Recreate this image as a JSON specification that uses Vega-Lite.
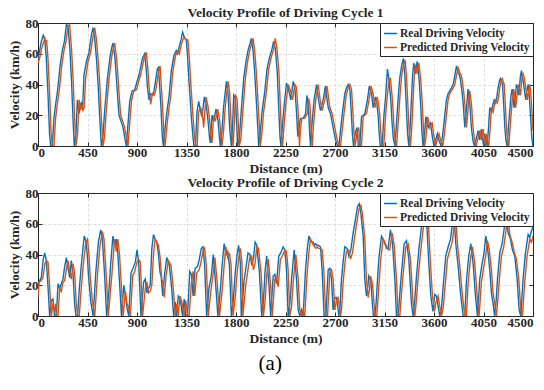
{
"$schema":"https://vega.github.io/schema/vega-lite/v6.json",
"padding":{"left":6,"top":5,"right":8,"bottom":2},
"background":"white",
"config":{
 "font":"Liberation Serif",
 "view":{"stroke":"#262626","strokeWidth":1},
 "axis":{"labelFont":"Liberation Serif","labelFontSize":13,"labelFontWeight":"bold","labelColor":"#262626","titleFont":"Liberation Serif","titleFontSize":13.5,"titleFontWeight":"bold","titleColor":"#262626","domainColor":"#262626","tickColor":"#262626","tickSize":-4,"labelPadding":4,"gridColor":"#dedede","gridDash":[3,2],"format":"d"},
 "title":{"font":"Liberation Serif","fontSize":13.5,"fontWeight":"bold","color":"#262626","offset":-2},
 "legend":{"orient":"top-right","offset":0,"strokeColor":"#262626","fillColor":"white","padding":3,"rowPadding":1,"labelFont":"Liberation Serif","labelFontSize":11.5,"labelFontWeight":"bold","labelColor":"#262626","symbolType":"stroke","symbolSize":170,"symbolStrokeWidth":1.5,"title":null,"labelOffset":2}
},
"datasets":{
"r1":[{"d":0,"v":57},{"d":15,"v":62},{"d":30,"v":68},{"d":48,"v":72},{"d":62,"v":69},{"d":75,"v":58},{"d":90,"v":35},{"d":105,"v":8},{"d":115,"v":0},{"d":130,"v":0},{"d":145,"v":18},{"d":160,"v":27},{"d":176,"v":35},{"d":190,"v":44},{"d":200,"v":52},{"d":221,"v":62},{"d":240,"v":68},{"d":258,"v":79},{"d":272,"v":78},{"d":290,"v":63},{"d":305,"v":42},{"d":318,"v":18},{"d":330,"v":0},{"d":345,"v":8},{"d":358,"v":30},{"d":373,"v":21},{"d":385,"v":27},{"d":394,"v":28},{"d":405,"v":24},{"d":418,"v":46},{"d":440,"v":55},{"d":464,"v":61},{"d":485,"v":72},{"d":500,"v":77},{"d":515,"v":70},{"d":530,"v":58},{"d":545,"v":42},{"d":560,"v":20},{"d":576,"v":0},{"d":590,"v":6},{"d":605,"v":22},{"d":631,"v":44},{"d":655,"v":58},{"d":670,"v":64},{"d":682,"v":67},{"d":700,"v":57},{"d":715,"v":42},{"d":728,"v":28},{"d":737,"v":20},{"d":755,"v":16},{"d":773,"v":12},{"d":790,"v":5},{"d":803,"v":0},{"d":820,"v":16},{"d":834,"v":29},{"d":846,"v":33},{"d":858,"v":36},{"d":870,"v":36},{"d":882,"v":37},{"d":900,"v":42},{"d":918,"v":46},{"d":935,"v":52},{"d":949,"v":57},{"d":970,"v":60},{"d":985,"v":49},{"d":994,"v":39},{"d":1009,"v":30},{"d":1025,"v":34},{"d":1040,"v":33},{"d":1055,"v":36},{"d":1070,"v":43},{"d":1085,"v":50},{"d":1095,"v":51},{"d":1105,"v":40},{"d":1118,"v":25},{"d":1130,"v":6},{"d":1140,"v":0},{"d":1160,"v":15},{"d":1175,"v":24},{"d":1191,"v":32},{"d":1212,"v":49},{"d":1236,"v":59},{"d":1257,"v":62},{"d":1270,"v":60},{"d":1282,"v":64},{"d":1300,"v":69},{"d":1315,"v":74},{"d":1333,"v":70},{"d":1348,"v":69},{"d":1360,"v":58},{"d":1373,"v":42},{"d":1394,"v":19},{"d":1410,"v":5},{"d":1418,"v":0},{"d":1432,"v":0},{"d":1445,"v":22},{"d":1461,"v":29},{"d":1476,"v":23},{"d":1491,"v":19},{"d":1512,"v":32},{"d":1530,"v":26},{"d":1545,"v":17},{"d":1560,"v":5},{"d":1567,"v":2},{"d":1582,"v":20},{"d":1597,"v":16},{"d":1618,"v":24},{"d":1636,"v":17},{"d":1650,"v":5},{"d":1658,"v":0},{"d":1672,"v":10},{"d":1688,"v":26},{"d":1713,"v":42},{"d":1727,"v":35},{"d":1743,"v":11},{"d":1758,"v":0},{"d":1770,"v":15},{"d":1779,"v":33},{"d":1794,"v":31},{"d":1808,"v":12},{"d":1815,"v":0},{"d":1830,"v":5},{"d":1849,"v":24},{"d":1870,"v":44},{"d":1891,"v":55},{"d":1909,"v":62},{"d":1925,"v":66},{"d":1940,"v":70},{"d":1955,"v":62},{"d":1970,"v":48},{"d":1985,"v":29},{"d":1998,"v":12},{"d":2006,"v":0},{"d":2020,"v":8},{"d":2036,"v":22},{"d":2061,"v":35},{"d":2082,"v":50},{"d":2103,"v":57},{"d":2127,"v":63},{"d":2142,"v":68},{"d":2158,"v":63},{"d":2175,"v":48},{"d":2190,"v":22},{"d":2200,"v":6},{"d":2208,"v":0},{"d":2225,"v":16},{"d":2240,"v":28},{"d":2259,"v":41},{"d":2280,"v":36},{"d":2298,"v":30},{"d":2320,"v":42},{"d":2335,"v":38},{"d":2350,"v":22},{"d":2362,"v":6},{"d":2372,"v":12},{"d":2385,"v":18},{"d":2410,"v":18},{"d":2432,"v":21},{"d":2445,"v":33},{"d":2458,"v":26},{"d":2470,"v":8},{"d":2478,"v":0},{"d":2490,"v":14},{"d":2510,"v":30},{"d":2532,"v":40},{"d":2550,"v":30},{"d":2568,"v":23},{"d":2592,"v":30},{"d":2613,"v":39},{"d":2625,"v":32},{"d":2638,"v":25},{"d":2659,"v":21},{"d":2683,"v":12},{"d":2705,"v":4},{"d":2722,"v":0},{"d":2735,"v":0},{"d":2750,"v":10},{"d":2765,"v":20},{"d":2789,"v":34},{"d":2805,"v":38},{"d":2820,"v":40},{"d":2835,"v":37},{"d":2848,"v":22},{"d":2858,"v":8},{"d":2868,"v":0},{"d":2880,"v":6},{"d":2890,"v":10},{"d":2901,"v":12},{"d":2912,"v":0},{"d":2925,"v":0},{"d":2941,"v":19},{"d":2955,"v":20},{"d":2971,"v":21},{"d":2995,"v":30},{"d":3012,"v":39},{"d":3032,"v":34},{"d":3047,"v":25},{"d":3068,"v":32},{"d":3080,"v":28},{"d":3092,"v":20},{"d":3102,"v":8},{"d":3112,"v":0},{"d":3128,"v":0},{"d":3145,"v":20},{"d":3160,"v":32},{"d":3177,"v":50},{"d":3189,"v":44},{"d":3207,"v":30},{"d":3220,"v":14},{"d":3230,"v":5},{"d":3245,"v":0},{"d":3262,"v":18},{"d":3278,"v":35},{"d":3290,"v":45},{"d":3308,"v":53},{"d":3322,"v":57},{"d":3335,"v":46},{"d":3348,"v":26},{"d":3360,"v":8},{"d":3371,"v":0},{"d":3383,"v":12},{"d":3395,"v":30},{"d":3405,"v":45},{"d":3416,"v":54},{"d":3432,"v":47},{"d":3447,"v":55},{"d":3465,"v":43},{"d":3478,"v":28},{"d":3490,"v":10},{"d":3500,"v":0},{"d":3512,"v":6},{"d":3526,"v":19},{"d":3537,"v":16},{"d":3547,"v":12},{"d":3558,"v":14},{"d":3568,"v":15},{"d":3585,"v":6},{"d":3600,"v":0},{"d":3615,"v":4},{"d":3630,"v":8},{"d":3648,"v":3},{"d":3665,"v":0},{"d":3680,"v":8},{"d":3695,"v":18},{"d":3713,"v":30},{"d":3728,"v":34},{"d":3744,"v":36},{"d":3760,"v":38},{"d":3774,"v":40},{"d":3790,"v":46},{"d":3804,"v":52},{"d":3819,"v":48},{"d":3832,"v":46},{"d":3841,"v":43},{"d":3855,"v":35},{"d":3865,"v":28},{"d":3880,"v":12},{"d":3895,"v":24},{"d":3909,"v":37},{"d":3925,"v":28},{"d":3940,"v":12},{"d":3955,"v":3},{"d":3968,"v":0},{"d":3985,"v":5},{"d":4001,"v":10},{"d":4016,"v":4},{"d":4031,"v":11},{"d":4045,"v":3},{"d":4053,"v":0},{"d":4062,"v":8},{"d":4072,"v":3},{"d":4083,"v":0},{"d":4096,"v":12},{"d":4107,"v":25},{"d":4123,"v":22},{"d":4135,"v":27},{"d":4147,"v":30},{"d":4160,"v":28},{"d":4168,"v":30},{"d":4183,"v":38},{"d":4197,"v":43},{"d":4205,"v":44},{"d":4223,"v":40},{"d":4235,"v":25},{"d":4244,"v":12},{"d":4255,"v":3},{"d":4265,"v":0},{"d":4280,"v":15},{"d":4289,"v":23},{"d":4300,"v":33},{"d":4310,"v":37},{"d":4328,"v":25},{"d":4340,"v":33},{"d":4350,"v":40},{"d":4360,"v":38},{"d":4372,"v":33},{"d":4385,"v":45},{"d":4395,"v":49},{"d":4407,"v":44},{"d":4419,"v":38},{"d":4434,"v":30},{"d":4445,"v":36},{"d":4456,"v":40},{"d":4467,"v":32},{"d":4477,"v":20},{"d":4490,"v":5},{"d":4500,"v":0}],
"p1":[{"d":0,"v":54},{"d":18,"v":58},{"d":32,"v":63},{"d":48,"v":67},{"d":63,"v":70},{"d":70,"v":67},{"d":78,"v":69},{"d":90,"v":58},{"d":105,"v":35},{"d":120,"v":8},{"d":130,"v":0},{"d":145,"v":0},{"d":160,"v":18},{"d":175,"v":27},{"d":191,"v":35},{"d":205,"v":44},{"d":215,"v":52},{"d":236,"v":62},{"d":255,"v":68},{"d":273,"v":78},{"d":287,"v":79},{"d":305,"v":63},{"d":320,"v":42},{"d":333,"v":18},{"d":345,"v":0},{"d":360,"v":8},{"d":373,"v":30},{"d":388,"v":24},{"d":400,"v":26},{"d":409,"v":23},{"d":420,"v":25},{"d":433,"v":44},{"d":455,"v":55},{"d":479,"v":61},{"d":500,"v":71},{"d":515,"v":77},{"d":530,"v":70},{"d":545,"v":58},{"d":560,"v":42},{"d":575,"v":20},{"d":591,"v":0},{"d":605,"v":6},{"d":620,"v":22},{"d":646,"v":44},{"d":670,"v":58},{"d":685,"v":64},{"d":697,"v":67},{"d":715,"v":57},{"d":730,"v":42},{"d":743,"v":28},{"d":752,"v":20},{"d":770,"v":16},{"d":788,"v":12},{"d":805,"v":5},{"d":818,"v":0},{"d":835,"v":16},{"d":849,"v":29},{"d":861,"v":33},{"d":873,"v":36},{"d":885,"v":36},{"d":897,"v":37},{"d":915,"v":42},{"d":933,"v":46},{"d":950,"v":52},{"d":964,"v":57},{"d":985,"v":61},{"d":1000,"v":49},{"d":1009,"v":39},{"d":1024,"v":27},{"d":1040,"v":34},{"d":1055,"v":33},{"d":1070,"v":36},{"d":1085,"v":43},{"d":1100,"v":50},{"d":1110,"v":52},{"d":1120,"v":40},{"d":1133,"v":25},{"d":1145,"v":6},{"d":1155,"v":0},{"d":1175,"v":15},{"d":1190,"v":24},{"d":1206,"v":32},{"d":1227,"v":49},{"d":1251,"v":59},{"d":1272,"v":62},{"d":1285,"v":60},{"d":1297,"v":64},{"d":1315,"v":69},{"d":1330,"v":71},{"d":1348,"v":69},{"d":1363,"v":69},{"d":1375,"v":58},{"d":1388,"v":42},{"d":1409,"v":19},{"d":1425,"v":5},{"d":1433,"v":0},{"d":1447,"v":0},{"d":1460,"v":22},{"d":1476,"v":25},{"d":1491,"v":23},{"d":1506,"v":12},{"d":1527,"v":32},{"d":1545,"v":26},{"d":1560,"v":17},{"d":1575,"v":5},{"d":1582,"v":2},{"d":1597,"v":20},{"d":1612,"v":16},{"d":1633,"v":24},{"d":1651,"v":17},{"d":1665,"v":5},{"d":1673,"v":0},{"d":1687,"v":10},{"d":1703,"v":26},{"d":1728,"v":42},{"d":1742,"v":35},{"d":1758,"v":11},{"d":1773,"v":0},{"d":1785,"v":15},{"d":1794,"v":33},{"d":1809,"v":31},{"d":1823,"v":12},{"d":1830,"v":0},{"d":1845,"v":5},{"d":1864,"v":24},{"d":1885,"v":44},{"d":1906,"v":55},{"d":1924,"v":62},{"d":1940,"v":66},{"d":1955,"v":70},{"d":1970,"v":62},{"d":1985,"v":48},{"d":2000,"v":29},{"d":2013,"v":12},{"d":2021,"v":0},{"d":2035,"v":8},{"d":2051,"v":22},{"d":2076,"v":35},{"d":2097,"v":50},{"d":2118,"v":57},{"d":2142,"v":63},{"d":2157,"v":70},{"d":2173,"v":63},{"d":2190,"v":48},{"d":2205,"v":22},{"d":2215,"v":6},{"d":2223,"v":0},{"d":2240,"v":16},{"d":2255,"v":28},{"d":2274,"v":40},{"d":2295,"v":36},{"d":2313,"v":30},{"d":2335,"v":40},{"d":2350,"v":38},{"d":2365,"v":22},{"d":2377,"v":0},{"d":2387,"v":12},{"d":2400,"v":18},{"d":2425,"v":18},{"d":2447,"v":21},{"d":2460,"v":31},{"d":2473,"v":26},{"d":2485,"v":8},{"d":2493,"v":0},{"d":2505,"v":14},{"d":2525,"v":30},{"d":2547,"v":40},{"d":2565,"v":30},{"d":2583,"v":23},{"d":2607,"v":30},{"d":2628,"v":39},{"d":2640,"v":32},{"d":2653,"v":25},{"d":2674,"v":21},{"d":2698,"v":12},{"d":2720,"v":4},{"d":2737,"v":0},{"d":2750,"v":0},{"d":2765,"v":10},{"d":2780,"v":20},{"d":2804,"v":34},{"d":2820,"v":38},{"d":2835,"v":40},{"d":2850,"v":37},{"d":2863,"v":22},{"d":2873,"v":8},{"d":2883,"v":0},{"d":2895,"v":6},{"d":2905,"v":10},{"d":2916,"v":12},{"d":2927,"v":0},{"d":2940,"v":0},{"d":2956,"v":19},{"d":2970,"v":20},{"d":2986,"v":21},{"d":3010,"v":30},{"d":3027,"v":39},{"d":3047,"v":34},{"d":3062,"v":25},{"d":3083,"v":32},{"d":3095,"v":28},{"d":3107,"v":20},{"d":3117,"v":8},{"d":3127,"v":0},{"d":3143,"v":0},{"d":3160,"v":20},{"d":3175,"v":32},{"d":3192,"v":44},{"d":3204,"v":44},{"d":3222,"v":30},{"d":3235,"v":14},{"d":3245,"v":5},{"d":3260,"v":0},{"d":3277,"v":18},{"d":3293,"v":35},{"d":3305,"v":45},{"d":3323,"v":53},{"d":3337,"v":56},{"d":3350,"v":46},{"d":3363,"v":26},{"d":3375,"v":8},{"d":3386,"v":0},{"d":3398,"v":12},{"d":3410,"v":30},{"d":3420,"v":45},{"d":3431,"v":53},{"d":3447,"v":47},{"d":3462,"v":54},{"d":3480,"v":43},{"d":3493,"v":28},{"d":3505,"v":10},{"d":3515,"v":0},{"d":3527,"v":6},{"d":3541,"v":19},{"d":3552,"v":16},{"d":3562,"v":12},{"d":3573,"v":14},{"d":3583,"v":15},{"d":3600,"v":6},{"d":3615,"v":0},{"d":3630,"v":4},{"d":3645,"v":8},{"d":3663,"v":3},{"d":3680,"v":0},{"d":3695,"v":8},{"d":3710,"v":18},{"d":3728,"v":30},{"d":3743,"v":34},{"d":3759,"v":36},{"d":3775,"v":38},{"d":3789,"v":40},{"d":3805,"v":46},{"d":3819,"v":51},{"d":3834,"v":48},{"d":3847,"v":46},{"d":3856,"v":43},{"d":3870,"v":35},{"d":3880,"v":28},{"d":3895,"v":12},{"d":3910,"v":24},{"d":3924,"v":36},{"d":3940,"v":28},{"d":3955,"v":12},{"d":3970,"v":3},{"d":3983,"v":0},{"d":4000,"v":5},{"d":4016,"v":10},{"d":4031,"v":4},{"d":4046,"v":11},{"d":4060,"v":3},{"d":4068,"v":0},{"d":4077,"v":8},{"d":4087,"v":3},{"d":4098,"v":0},{"d":4111,"v":12},{"d":4122,"v":25},{"d":4138,"v":22},{"d":4150,"v":27},{"d":4162,"v":30},{"d":4175,"v":28},{"d":4183,"v":30},{"d":4198,"v":38},{"d":4212,"v":43},{"d":4220,"v":44},{"d":4238,"v":40},{"d":4250,"v":25},{"d":4259,"v":12},{"d":4270,"v":3},{"d":4280,"v":0},{"d":4295,"v":15},{"d":4304,"v":23},{"d":4315,"v":33},{"d":4325,"v":37},{"d":4343,"v":25},{"d":4355,"v":33},{"d":4365,"v":40},{"d":4375,"v":38},{"d":4387,"v":33},{"d":4400,"v":45},{"d":4410,"v":47},{"d":4422,"v":44},{"d":4434,"v":38},{"d":4449,"v":30},{"d":4460,"v":36},{"d":4471,"v":40},{"d":4482,"v":32},{"d":4492,"v":20},{"d":4500,"v":10}],
"r2":[{"d":0,"v":20},{"d":15,"v":23},{"d":30,"v":25},{"d":48,"v":37},{"d":61,"v":41},{"d":76,"v":36},{"d":91,"v":19},{"d":106,"v":0},{"d":121,"v":10},{"d":136,"v":11},{"d":150,"v":0},{"d":167,"v":0},{"d":182,"v":21},{"d":197,"v":18},{"d":212,"v":21},{"d":227,"v":24},{"d":242,"v":32},{"d":258,"v":38},{"d":273,"v":31},{"d":288,"v":25},{"d":303,"v":36},{"d":318,"v":28},{"d":333,"v":8},{"d":345,"v":0},{"d":360,"v":0},{"d":375,"v":17},{"d":396,"v":35},{"d":420,"v":52},{"d":435,"v":49},{"d":448,"v":40},{"d":459,"v":26},{"d":480,"v":9},{"d":501,"v":0},{"d":525,"v":28},{"d":549,"v":48},{"d":570,"v":56},{"d":585,"v":50},{"d":606,"v":26},{"d":624,"v":0},{"d":645,"v":17},{"d":660,"v":33},{"d":681,"v":52},{"d":696,"v":46},{"d":711,"v":50},{"d":726,"v":40},{"d":741,"v":22},{"d":759,"v":0},{"d":780,"v":20},{"d":795,"v":13},{"d":810,"v":5},{"d":825,"v":0},{"d":846,"v":28},{"d":864,"v":31},{"d":885,"v":35},{"d":900,"v":43},{"d":915,"v":35},{"d":936,"v":0},{"d":960,"v":22},{"d":975,"v":24},{"d":990,"v":15},{"d":1005,"v":18},{"d":1020,"v":20},{"d":1035,"v":44},{"d":1050,"v":53},{"d":1065,"v":50},{"d":1080,"v":48},{"d":1095,"v":40},{"d":1110,"v":28},{"d":1119,"v":26},{"d":1134,"v":13},{"d":1149,"v":26},{"d":1170,"v":38},{"d":1194,"v":33},{"d":1215,"v":18},{"d":1233,"v":0},{"d":1248,"v":9},{"d":1260,"v":0},{"d":1275,"v":13},{"d":1293,"v":11},{"d":1314,"v":0},{"d":1329,"v":11},{"d":1344,"v":0},{"d":1359,"v":0},{"d":1380,"v":29},{"d":1395,"v":27},{"d":1410,"v":13},{"d":1428,"v":31},{"d":1449,"v":32},{"d":1464,"v":36},{"d":1485,"v":44},{"d":1500,"v":45},{"d":1515,"v":33},{"d":1533,"v":0},{"d":1554,"v":18},{"d":1575,"v":26},{"d":1593,"v":40},{"d":1614,"v":22},{"d":1635,"v":0},{"d":1659,"v":18},{"d":1674,"v":33},{"d":1692,"v":47},{"d":1710,"v":40},{"d":1725,"v":42},{"d":1740,"v":33},{"d":1758,"v":0},{"d":1775,"v":10},{"d":1794,"v":29},{"d":1810,"v":40},{"d":1824,"v":46},{"d":1839,"v":35},{"d":1848,"v":0},{"d":1873,"v":23},{"d":1890,"v":31},{"d":1909,"v":41},{"d":1927,"v":40},{"d":1944,"v":33},{"d":1960,"v":38},{"d":1974,"v":48},{"d":1989,"v":46},{"d":2013,"v":28},{"d":2034,"v":0},{"d":2050,"v":10},{"d":2064,"v":29},{"d":2079,"v":39},{"d":2100,"v":20},{"d":2115,"v":0},{"d":2138,"v":26},{"d":2153,"v":27},{"d":2168,"v":21},{"d":2189,"v":39},{"d":2207,"v":41},{"d":2229,"v":45},{"d":2244,"v":43},{"d":2259,"v":30},{"d":2274,"v":0},{"d":2290,"v":8},{"d":2305,"v":24},{"d":2329,"v":43},{"d":2350,"v":24},{"d":2365,"v":4},{"d":2380,"v":0},{"d":2395,"v":4},{"d":2410,"v":0},{"d":2432,"v":30},{"d":2447,"v":43},{"d":2462,"v":52},{"d":2477,"v":49},{"d":2490,"v":48},{"d":2501,"v":48},{"d":2512,"v":46},{"d":2523,"v":47},{"d":2535,"v":46},{"d":2547,"v":46},{"d":2568,"v":45},{"d":2583,"v":30},{"d":2601,"v":0},{"d":2617,"v":0},{"d":2638,"v":30},{"d":2653,"v":31},{"d":2668,"v":24},{"d":2683,"v":4},{"d":2698,"v":12},{"d":2712,"v":12},{"d":2722,"v":8},{"d":2735,"v":0},{"d":2745,"v":5},{"d":2759,"v":24},{"d":2775,"v":36},{"d":2789,"v":45},{"d":2810,"v":44},{"d":2826,"v":39},{"d":2844,"v":43},{"d":2865,"v":54},{"d":2886,"v":63},{"d":2904,"v":71},{"d":2920,"v":73},{"d":2935,"v":67},{"d":2956,"v":52},{"d":2971,"v":24},{"d":2986,"v":13},{"d":3000,"v":20},{"d":3007,"v":26},{"d":3026,"v":23},{"d":3040,"v":8},{"d":3050,"v":0},{"d":3065,"v":0},{"d":3077,"v":12},{"d":3090,"v":28},{"d":3101,"v":39},{"d":3123,"v":52},{"d":3144,"v":49},{"d":3168,"v":44},{"d":3183,"v":44},{"d":3204,"v":56},{"d":3223,"v":47},{"d":3244,"v":24},{"d":3259,"v":0},{"d":3274,"v":0},{"d":3290,"v":15},{"d":3304,"v":28},{"d":3329,"v":47},{"d":3350,"v":49},{"d":3371,"v":37},{"d":3385,"v":20},{"d":3395,"v":8},{"d":3410,"v":0},{"d":3425,"v":10},{"d":3441,"v":26},{"d":3462,"v":43},{"d":3486,"v":58},{"d":3505,"v":66},{"d":3520,"v":68},{"d":3532,"v":63},{"d":3553,"v":34},{"d":3571,"v":13},{"d":3590,"v":3},{"d":3600,"v":10},{"d":3607,"v":14},{"d":3622,"v":13},{"d":3638,"v":6},{"d":3653,"v":0},{"d":3668,"v":5},{"d":3683,"v":19},{"d":3707,"v":39},{"d":3729,"v":45},{"d":3750,"v":50},{"d":3768,"v":60},{"d":3783,"v":64},{"d":3798,"v":47},{"d":3820,"v":32},{"d":3841,"v":15},{"d":3865,"v":0},{"d":3880,"v":0},{"d":3895,"v":23},{"d":3916,"v":39},{"d":3935,"v":47},{"d":3956,"v":34},{"d":3977,"v":13},{"d":3995,"v":0},{"d":4016,"v":24},{"d":4037,"v":34},{"d":4055,"v":41},{"d":4071,"v":52},{"d":4086,"v":45},{"d":4107,"v":30},{"d":4122,"v":15},{"d":4137,"v":8},{"d":4152,"v":0},{"d":4165,"v":10},{"d":4177,"v":24},{"d":4198,"v":41},{"d":4219,"v":47},{"d":4244,"v":60},{"d":4259,"v":65},{"d":4274,"v":54},{"d":4295,"v":50},{"d":4313,"v":43},{"d":4334,"v":39},{"d":4356,"v":24},{"d":4374,"v":4},{"d":4389,"v":0},{"d":4410,"v":24},{"d":4431,"v":41},{"d":4456,"v":53},{"d":4471,"v":51},{"d":4485,"v":55},{"d":4500,"v":58}],
"p2":[{"d":0,"v":12},{"d":10,"v":22},{"d":30,"v":23},{"d":45,"v":25},{"d":63,"v":34},{"d":76,"v":36},{"d":91,"v":35},{"d":106,"v":19},{"d":121,"v":0},{"d":136,"v":8},{"d":151,"v":3},{"d":160,"v":8},{"d":165,"v":0},{"d":182,"v":0},{"d":197,"v":18},{"d":212,"v":16},{"d":227,"v":22},{"d":242,"v":23},{"d":257,"v":30},{"d":273,"v":36},{"d":288,"v":29},{"d":303,"v":24},{"d":318,"v":34},{"d":333,"v":28},{"d":348,"v":8},{"d":360,"v":0},{"d":375,"v":0},{"d":390,"v":15},{"d":411,"v":33},{"d":435,"v":48},{"d":450,"v":50},{"d":463,"v":40},{"d":474,"v":26},{"d":495,"v":9},{"d":516,"v":0},{"d":540,"v":26},{"d":564,"v":46},{"d":585,"v":55},{"d":600,"v":50},{"d":621,"v":26},{"d":639,"v":0},{"d":660,"v":17},{"d":675,"v":30},{"d":696,"v":50},{"d":711,"v":42},{"d":726,"v":50},{"d":741,"v":40},{"d":756,"v":22},{"d":774,"v":0},{"d":795,"v":16},{"d":810,"v":8},{"d":825,"v":5},{"d":840,"v":0},{"d":861,"v":26},{"d":879,"v":29},{"d":900,"v":35},{"d":915,"v":37},{"d":930,"v":35},{"d":951,"v":0},{"d":975,"v":18},{"d":990,"v":22},{"d":1005,"v":15},{"d":1020,"v":16},{"d":1035,"v":20},{"d":1050,"v":40},{"d":1065,"v":50},{"d":1080,"v":48},{"d":1095,"v":46},{"d":1110,"v":38},{"d":1125,"v":24},{"d":1134,"v":22},{"d":1149,"v":12},{"d":1164,"v":26},{"d":1185,"v":36},{"d":1209,"v":33},{"d":1230,"v":18},{"d":1248,"v":0},{"d":1263,"v":8},{"d":1275,"v":0},{"d":1290,"v":13},{"d":1308,"v":9},{"d":1329,"v":0},{"d":1344,"v":10},{"d":1359,"v":0},{"d":1374,"v":0},{"d":1395,"v":22},{"d":1410,"v":29},{"d":1425,"v":13},{"d":1443,"v":28},{"d":1464,"v":30},{"d":1479,"v":34},{"d":1500,"v":42},{"d":1515,"v":44},{"d":1530,"v":33},{"d":1548,"v":0},{"d":1569,"v":15},{"d":1590,"v":26},{"d":1608,"v":38},{"d":1629,"v":22},{"d":1650,"v":0},{"d":1674,"v":16},{"d":1689,"v":30},{"d":1707,"v":45},{"d":1725,"v":38},{"d":1740,"v":41},{"d":1755,"v":33},{"d":1773,"v":0},{"d":1790,"v":10},{"d":1809,"v":27},{"d":1825,"v":38},{"d":1839,"v":44},{"d":1854,"v":35},{"d":1863,"v":0},{"d":1888,"v":20},{"d":1905,"v":28},{"d":1924,"v":38},{"d":1942,"v":39},{"d":1959,"v":30},{"d":1975,"v":35},{"d":1989,"v":45},{"d":2004,"v":44},{"d":2028,"v":28},{"d":2049,"v":0},{"d":2065,"v":10},{"d":2079,"v":26},{"d":2094,"v":37},{"d":2115,"v":20},{"d":2130,"v":0},{"d":2153,"v":24},{"d":2168,"v":25},{"d":2183,"v":19},{"d":2204,"v":37},{"d":2222,"v":39},{"d":2244,"v":43},{"d":2259,"v":42},{"d":2274,"v":30},{"d":2289,"v":0},{"d":2305,"v":6},{"d":2320,"v":22},{"d":2344,"v":40},{"d":2365,"v":24},{"d":2380,"v":4},{"d":2395,"v":0},{"d":2410,"v":4},{"d":2425,"v":0},{"d":2447,"v":28},{"d":2462,"v":41},{"d":2477,"v":50},{"d":2492,"v":48},{"d":2505,"v":46},{"d":2516,"v":45},{"d":2527,"v":44},{"d":2538,"v":45},{"d":2550,"v":44},{"d":2562,"v":44},{"d":2583,"v":43},{"d":2598,"v":30},{"d":2616,"v":0},{"d":2632,"v":0},{"d":2653,"v":28},{"d":2668,"v":30},{"d":2683,"v":24},{"d":2698,"v":4},{"d":2713,"v":10},{"d":2727,"v":12},{"d":2737,"v":8},{"d":2750,"v":0},{"d":2760,"v":5},{"d":2774,"v":22},{"d":2790,"v":34},{"d":2804,"v":42},{"d":2825,"v":43},{"d":2841,"v":37},{"d":2859,"v":41},{"d":2880,"v":52},{"d":2901,"v":62},{"d":2919,"v":70},{"d":2935,"v":72},{"d":2950,"v":66},{"d":2971,"v":50},{"d":2986,"v":24},{"d":3001,"v":12},{"d":3015,"v":18},{"d":3022,"v":26},{"d":3041,"v":21},{"d":3055,"v":8},{"d":3065,"v":0},{"d":3080,"v":0},{"d":3092,"v":12},{"d":3105,"v":26},{"d":3116,"v":37},{"d":3138,"v":50},{"d":3159,"v":47},{"d":3183,"v":43},{"d":3198,"v":43},{"d":3219,"v":54},{"d":3238,"v":46},{"d":3259,"v":24},{"d":3274,"v":0},{"d":3289,"v":0},{"d":3305,"v":15},{"d":3319,"v":27},{"d":3344,"v":45},{"d":3365,"v":47},{"d":3386,"v":37},{"d":3400,"v":20},{"d":3410,"v":8},{"d":3425,"v":0},{"d":3440,"v":10},{"d":3456,"v":25},{"d":3477,"v":41},{"d":3501,"v":56},{"d":3520,"v":65},{"d":3535,"v":66},{"d":3547,"v":62},{"d":3568,"v":34},{"d":3586,"v":13},{"d":3605,"v":3},{"d":3615,"v":8},{"d":3622,"v":10},{"d":3637,"v":13},{"d":3653,"v":6},{"d":3668,"v":0},{"d":3683,"v":5},{"d":3698,"v":17},{"d":3722,"v":37},{"d":3744,"v":43},{"d":3765,"v":48},{"d":3783,"v":58},{"d":3798,"v":63},{"d":3813,"v":47},{"d":3835,"v":32},{"d":3856,"v":15},{"d":3880,"v":0},{"d":3895,"v":0},{"d":3910,"v":21},{"d":3931,"v":37},{"d":3950,"v":45},{"d":3971,"v":34},{"d":3992,"v":13},{"d":4010,"v":0},{"d":4031,"v":22},{"d":4052,"v":32},{"d":4070,"v":39},{"d":4086,"v":49},{"d":4101,"v":44},{"d":4122,"v":30},{"d":4137,"v":15},{"d":4152,"v":8},{"d":4167,"v":0},{"d":4180,"v":10},{"d":4192,"v":22},{"d":4213,"v":39},{"d":4234,"v":45},{"d":4259,"v":58},{"d":4274,"v":63},{"d":4289,"v":53},{"d":4310,"v":48},{"d":4328,"v":42},{"d":4349,"v":37},{"d":4371,"v":24},{"d":4389,"v":4},{"d":4404,"v":0},{"d":4425,"v":22},{"d":4446,"v":39},{"d":4471,"v":50},{"d":4486,"v":48},{"d":4500,"v":52}]
},
"title":{"text":"(a)","orient":"bottom","anchor":"middle","fontSize":21,"fontWeight":"normal","offset":8,"color":"#000000"},
"spacing":0,
"resolve":{"scale":{"color":"independent"},"legend":{"color":"independent"}},
"vconcat":[
{"title":"Velocity Profile of Driving Cycle 1","width":495,"height":123,
 "resolve":{"axis":{"x":"independent","y":"independent"}},
 "layer":[
  {"data":{"name":"r1"},"mark":{"type":"line","strokeWidth":1.4,"clip":true},
   "encoding":{"x":{"field":"d","type":"quantitative","scale":{"domain":[0,4500],"nice":false},"axis":{"values":[0,450,900,1350,1800,2250,2700,3150,3600,4050,4500],"title":"Distance (m)","titlePadding":2}},
    "y":{"field":"v","type":"quantitative","scale":{"domain":[0,80],"nice":false},"axis":{"values":[0,20,40,60,80],"title":"Velocity (km/h)","titlePadding":4}},
    "color":{"datum":"Real Driving Velocity","scale":{"domain":["Real Driving Velocity","Predicted Driving Velocity"],"range":["#0072BD","#D95319"]}}}},
  {"data":{"name":"p1"},"mark":{"type":"line","strokeWidth":1.4,"clip":true},
   "encoding":{"x":{"field":"d","type":"quantitative","axis":{"orient":"top","values":[0,450,900,1350,1800,2250,2700,3150,3600,4050,4500],"labels":false,"title":null,"grid":false,"domain":true}},
    "y":{"field":"v","type":"quantitative","axis":{"orient":"right","values":[0,20,40,60,80],"labels":false,"title":null,"grid":false,"domain":true}},
    "color":{"datum":"Predicted Driving Velocity"}}}
 ]},
{"title":"Velocity Profile of Driving Cycle 2","width":495,"height":123,
 "resolve":{"axis":{"x":"independent","y":"independent"}},
 "layer":[
  {"data":{"name":"r2"},"mark":{"type":"line","strokeWidth":1.4,"clip":true},
   "encoding":{"x":{"field":"d","type":"quantitative","scale":{"domain":[0,4500],"nice":false},"axis":{"values":[0,450,900,1350,1800,2250,2700,3150,3600,4050,4500],"title":"Distance (m)","titlePadding":2}},
    "y":{"field":"v","type":"quantitative","scale":{"domain":[0,80],"nice":false},"axis":{"values":[0,20,40,60,80],"title":"Velocity (km/h)","titlePadding":4}},
    "color":{"datum":"Real Driving Velocity","scale":{"domain":["Real Driving Velocity","Predicted Driving Velocity"],"range":["#0072BD","#D95319"]}}}},
  {"data":{"name":"p2"},"mark":{"type":"line","strokeWidth":1.4,"clip":true},
   "encoding":{"x":{"field":"d","type":"quantitative","axis":{"orient":"top","values":[0,450,900,1350,1800,2250,2700,3150,3600,4050,4500],"labels":false,"title":null,"grid":false,"domain":true}},
    "y":{"field":"v","type":"quantitative","axis":{"orient":"right","values":[0,20,40,60,80],"labels":false,"title":null,"grid":false,"domain":true}},
    "color":{"datum":"Predicted Driving Velocity"}}}
 ]}
]
}
